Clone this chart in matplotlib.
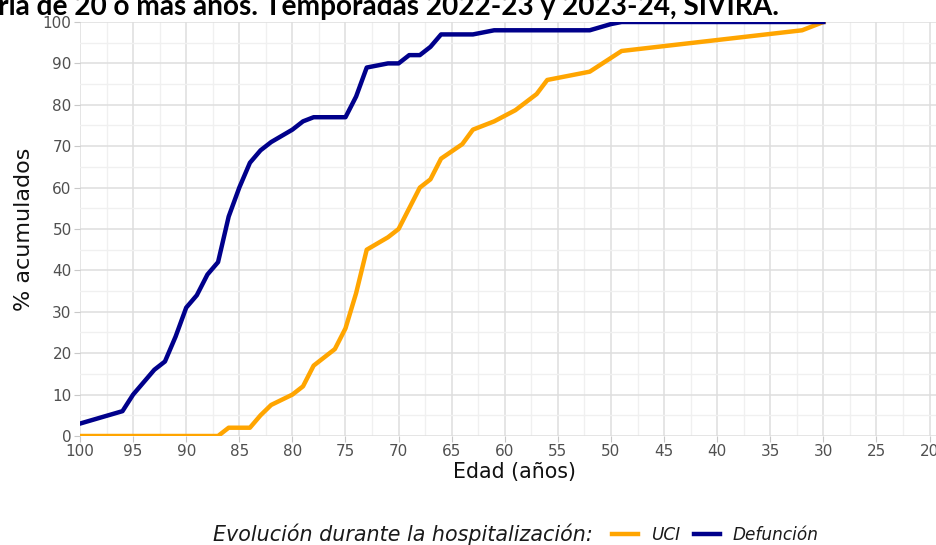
import matplotlib
matplotlib.use("Agg")
from matplotlib import pyplot as plt
from matplotlib.lines import Line2D
from matplotlib.ticker import MultipleLocator

plt.rcParams['font.family'] = ['DejaVu Sans']

# edades (eje x invertido) y % acumulados
edad_def = [100, 96, 95, 93, 92, 91, 90, 89, 88, 87, 86, 85, 84, 83, 82, 81, 80, 79, 78,
            75, 74, 73, 72, 71, 70, 69, 68, 67, 66, 63, 61, 52, 50, 49, 30]
pct_def = [3, 6, 10, 16, 18, 24, 31, 34, 39, 42, 53, 60, 66, 69, 71, 72.5, 74, 76, 77,
           77, 82, 89, 89.5, 90, 90, 92, 92, 94, 97, 97, 98, 98, 99.5, 100, 100]

edad_uci = [100, 87, 86, 84, 83, 82, 80, 79, 78, 76, 75, 74, 73, 71, 70, 68, 67, 66,
            64, 63, 61, 59, 57, 56, 52, 49, 32, 30]
pct_uci = [0, 0, 2, 2, 5, 7.5, 10, 12, 17, 21, 26, 34.5, 45, 48, 50, 60, 62, 67,
           70.5, 74, 76, 78.7, 82.6, 86, 88, 93, 98, 100]

W, H = 937, 545
fig = plt.figure(figsize=(W / 100, H / 100), dpi=100)
ax = fig.add_axes([80 / W, (H - 436) / H, (W - 80) / W, 414 / H])

ax.plot(edad_uci, pct_uci, color='#FFA500', lw=3.2, solid_joinstyle='round', zorder=3)
ax.plot(edad_def, pct_def, color='#00008B', lw=3.2, solid_joinstyle='round', zorder=4)

ax.set_xlim(100, 19.3)
ax.set_ylim(0, 100)
ax.xaxis.set_major_locator(MultipleLocator(5))
ax.xaxis.set_minor_locator(MultipleLocator(2.5))
ax.yaxis.set_major_locator(MultipleLocator(10))
ax.yaxis.set_minor_locator(MultipleLocator(5))
ax.grid(True, which='major', color='#dedede', lw=1.1, zorder=0)
ax.grid(True, which='minor', color='#f0f0f0', lw=1.0, zorder=0)
ax.set_axisbelow(True)
for s in ax.spines.values():
    s.set_visible(False)
ax.tick_params(which='major', length=4, color='#c8c8c8', labelcolor='#505050', labelsize=11, pad=2)
ax.tick_params(which='minor', length=0)

ax.set_xlabel('Edad (años)', fontsize=14.8, color='#111111', labelpad=2)
ax.xaxis.label.set_x((515 - 80) / (W - 80))
ax.set_ylabel('% acumulados', fontsize=16, color='#111111', labelpad=6)

fig.text(-0.002, 1 - 15 / H, 'ria de 20 o más años. Temporadas 2022-23 y 2023-24, SIVIRA.',
         fontsize=20.2, fontweight='bold', family='Lato', ha='left', va='baseline', color='black')

fig.text(213 / W, 1 - 534 / H, 'Evolución durante la hospitalización:', fontsize=14.9,
         style='italic', color='#1a1a1a', ha='left', va='center')
handles = [Line2D([], [], color='#FFA500', lw=3.2), Line2D([], [], color='#00008B', lw=3.2)]
leg = fig.legend(handles, ['UCI', 'Defunción'], ncol=2, frameon=False, loc='center left',
                 bbox_to_anchor=(604 / W, 1 - 535 / H), prop={'size': 12.2, 'style': 'italic'},
                 handlelength=1.5, handletextpad=0.75, columnspacing=0.86, borderpad=0)
for t in leg.get_texts():
    t.set_color('#1a1a1a')

plt.savefig('out.png', dpi=100)
